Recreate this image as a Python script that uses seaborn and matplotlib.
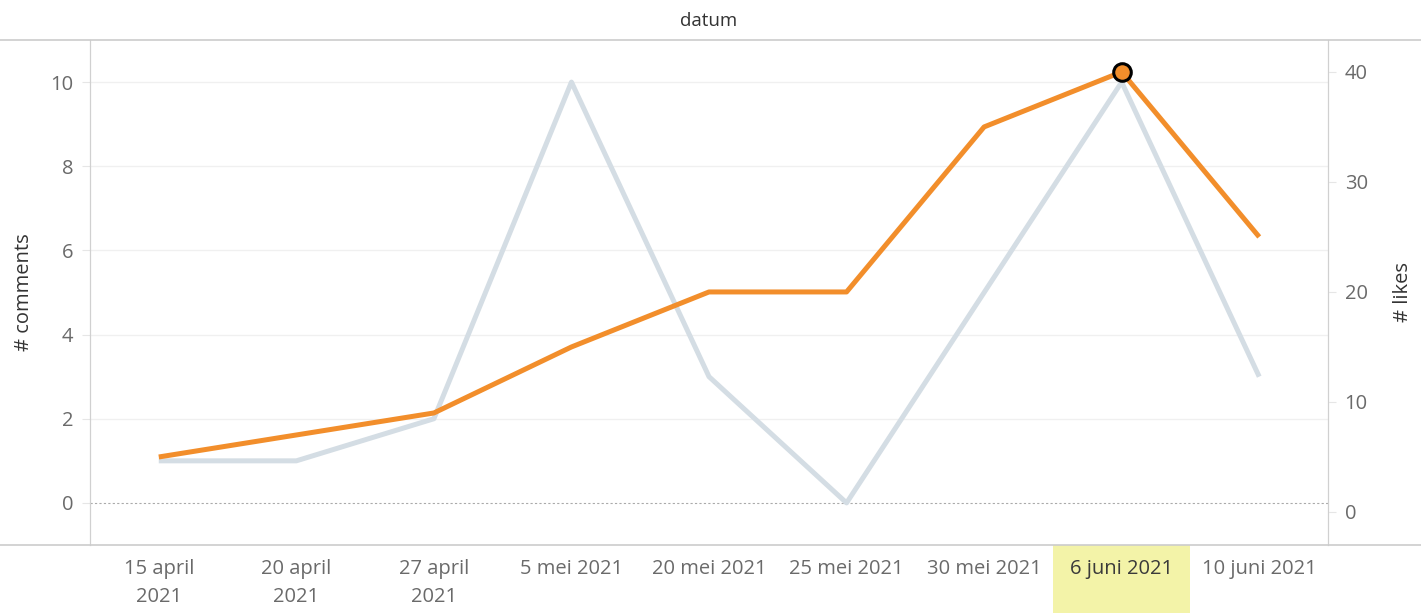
import pandas as pd
import matplotlib as mpl
import matplotlib.pyplot as plt
import seaborn as sns
from matplotlib.lines import Line2D
from matplotlib.patches import Rectangle
from matplotlib.transforms import blended_transform_factory

# Data
dates = ["15 april\n2021", "20 april\n2021", "27 april\n2021", "5 mei 2021",
         "20 mei 2021", "25 mei 2021", "30 mei 2021", "6 juni 2021", "10 juni 2021"]
comments = [1, 1, 2, 10, 3, 0, 5, 10, 3]
likes = [5, 7, 9, 15, 20, 20, 35, 40, 25]
highlight = "6 juni 2021"

df = pd.DataFrame({"pos": range(len(dates)), "datum": dates,
                   "comments": comments, "likes": likes})

sns.set_style("white")
mpl.rcParams["font.family"] = ["Open Sans", "DejaVu Sans"]

grey_txt = "#6a6a6a"
fs = 14.5

fig = plt.figure(figsize=(14.21, 6.13), dpi=100)
ax = fig.add_axes([90 / 1421, 68 / 613, 1238 / 1421, 505 / 613])
ax2 = ax.twinx()

sns.lineplot(data=df, x="pos", y="comments", ax=ax, color="#d4dde4",
             linewidth=3.6, solid_capstyle="butt")
sns.lineplot(data=df, x="pos", y="likes", ax=ax2, color="#f28e2b",
             linewidth=3.6, solid_capstyle="butt")

# highlighted point
hi = df[df["datum"] == highlight]
ax2.scatter(hi["pos"], hi["likes"], s=160, color="#f28e2b", edgecolor="black",
            linewidth=2.2, zorder=5)

ax.set_xlim(-0.5, len(dates) - 0.5)
ax.set_ylim(-1, 11)
ax2.set_ylim(-3, 42.9)

ax.set_yticks([0, 2, 4, 6, 8, 10])
ax2.set_yticks([0, 10, 20, 30, 40])
for y in [2, 4, 6, 8, 10]:
    ax.axhline(y, color="#f0f0f0", linewidth=1, zorder=0)
ax.axhline(0, color="#aaaaaa", linewidth=0.8, linestyle=(0, (2, 2)), zorder=0)

ax.set_xticks(df["pos"])
ax.set_xticklabels(dates, linespacing=1.55)
ax.set_xticks([p - 0.5 for p in range(len(dates) + 1)], minor=True)
ax.tick_params(axis="x", which="major", length=0, pad=10, labelsize=fs, labelcolor=grey_txt)
ax.tick_params(axis="x", which="minor", length=8, width=0.8, color="#e0e0e0", direction="out")
ax.tick_params(axis="y", length=6, width=0.8, color="#e6e6e6", labelsize=fs,
               labelcolor=grey_txt, pad=6)
ax2.tick_params(axis="y", length=6, width=0.8, color="#e6e6e6", labelsize=fs,
                labelcolor=grey_txt, pad=6)
for lbl in ax.get_xticklabels():
    if lbl.get_text() == highlight:
        lbl.set_color("#3a3a3a")

ax.set_xlabel("")
ax.set_ylabel("# comments", fontsize=fs, color="#333333", labelpad=12)
ax2.set_ylabel("# likes", fontsize=fs, color="#333333", labelpad=18)

for a in (ax, ax2):
    for side in ["top", "bottom"]:
        a.spines[side].set_visible(False)
    a.spines["left"].set_color("#d0d0d0")
    a.spines["right"].set_color("#d0d0d0")

# yellow highlight behind the selected date label
trans = blended_transform_factory(ax.transData, ax.transAxes)
i = dates.index(highlight)
ax.add_patch(Rectangle((i - 0.5, -0.14), 1.0, 0.14, transform=trans,
                       facecolor="#f3f3a8", edgecolor="none", clip_on=False, zorder=-1))

# header and frame lines across the full width
fig.add_artist(Line2D([0, 1], [1 - 40 / 613] * 2, color="#cccccc", linewidth=1.2))
fig.add_artist(Line2D([0, 1], [68 / 613] * 2, color="#cccccc", linewidth=1.2))
fig.text(709 / 1421, 1 - 21 / 613, "datum", ha="center", va="center",
         fontsize=fs - 1, color="#333333")

fig.savefig("out.png", dpi=100)
